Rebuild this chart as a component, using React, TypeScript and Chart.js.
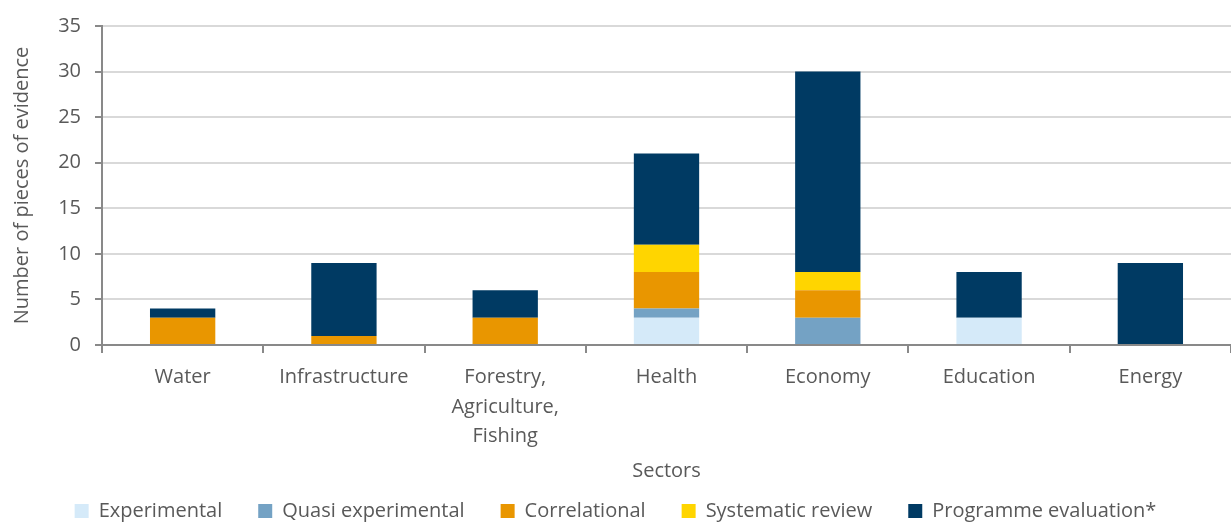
import React, { useEffect, useRef } from "react";
import { Chart, registerables } from "chart.js";

Chart.register(...registerables);

const categories: (string | string[])[] = [
  "Water",
  "Infrastructure",
  ["Forestry,", "Agriculture,", "Fishing"],
  "Health",
  "Economy",
  "Education",
  "Energy",
];

const experimental = [0, 0, 0, 3, 0, 3, 0];
const quasiExperimental = [0, 0, 0, 1, 3, 0, 0];
const correlational = [3, 1, 3, 4, 3, 0, 0];
const systematicReview = [0, 0, 0, 3, 2, 0, 0];
const programmeEvaluation = [1, 8, 3, 10, 22, 5, 9];

const seriesNames = [
  "Experimental",
  "Quasi experimental",
  "Correlational",
  "Systematic review",
  "Programme evaluation*",
];
const seriesColors = ["#d5eaf9", "#74a2c4", "#e99600", "#ffd500", "#003a63"];

const yTitle = "Number of pieces of evidence";
const xTitle = "Sectors";

const FONT = "'Open Sans'";
const TEXT = "#595959";

export default function App() {
  const ref = useRef<HTMLCanvasElement | null>(null);

  useEffect(() => {
    document.body.style.margin = "0";
    document.body.style.overflow = "hidden";
    const canvas = ref.current;
    if (!canvas) return;
    const allSeries = [
      experimental,
      quasiExperimental,
      correlational,
      systematicReview,
      programmeEvaluation,
    ];
    const chart = new Chart(canvas, {
      type: "bar",
      data: {
        labels: categories,
        datasets: allSeries.map((d, i) => ({
          label: seriesNames[i],
          data: d,
          backgroundColor: seriesColors[i],
          borderWidth: 0,
          categoryPercentage: 1,
          barPercentage: 0.405,
        })),
      },
      options: {
        responsive: false,
        animation: false,
        layout: { padding: { left: 0, right: 0, top: 8, bottom: 0 } },
        plugins: {
          tooltip: { enabled: false },
          legend: {
            position: "bottom",
            labels: {
              color: TEXT,
              font: { family: FONT, size: 20 },
              boxWidth: 14,
              boxHeight: 14,
              padding: 36,
            },
          },
        },
        scales: {
          x: {
            stacked: true,
            afterFit: (s: any) => {
              s.height = 120;
            },
            border: { color: "#898989", width: 2 },
            grid: {
              drawOnChartArea: false,
              drawTicks: true,
              tickLength: 8,
              tickColor: "#898989",
              lineWidth: 2,
              offset: true,
            },
            ticks: {
              color: TEXT,
              font: { family: FONT, size: 20, lineHeight: 1.47 },
              padding: 10,
              maxRotation: 0,
              autoSkip: false,
            },
            title: {
              display: true,
              text: xTitle,
              color: TEXT,
              font: { family: FONT, size: 20 },
              padding: { top: 4, bottom: -18 },
            },
          },
          y: {
            stacked: true,
            min: 0,
            max: 35,
            afterFit: (s: any) => {
              s.width = 102;
            },
            border: { color: "#898989", width: 2 },
            grid: {
              color: "#d9d9d9",
              lineWidth: 2,
              tickLength: 7,
              tickColor: "#898989",
            },
            ticks: {
              stepSize: 5,
              color: TEXT,
              font: { family: FONT, size: 20 },
              padding: 14,
            },
            title: {
              display: true,
              text: yTitle,
              color: TEXT,
              font: { family: FONT, size: 20 },
              padding: { top: 10, bottom: 4 },
            },
          },
        },
      },
    });
    return () => chart.destroy();
  }, []);

  return (
    <div style={{ width: 1231, height: 522, overflow: "hidden" }}>
      <canvas ref={ref} width={1231} height={531} style={{ display: "block" }} />
    </div>
  );
}
